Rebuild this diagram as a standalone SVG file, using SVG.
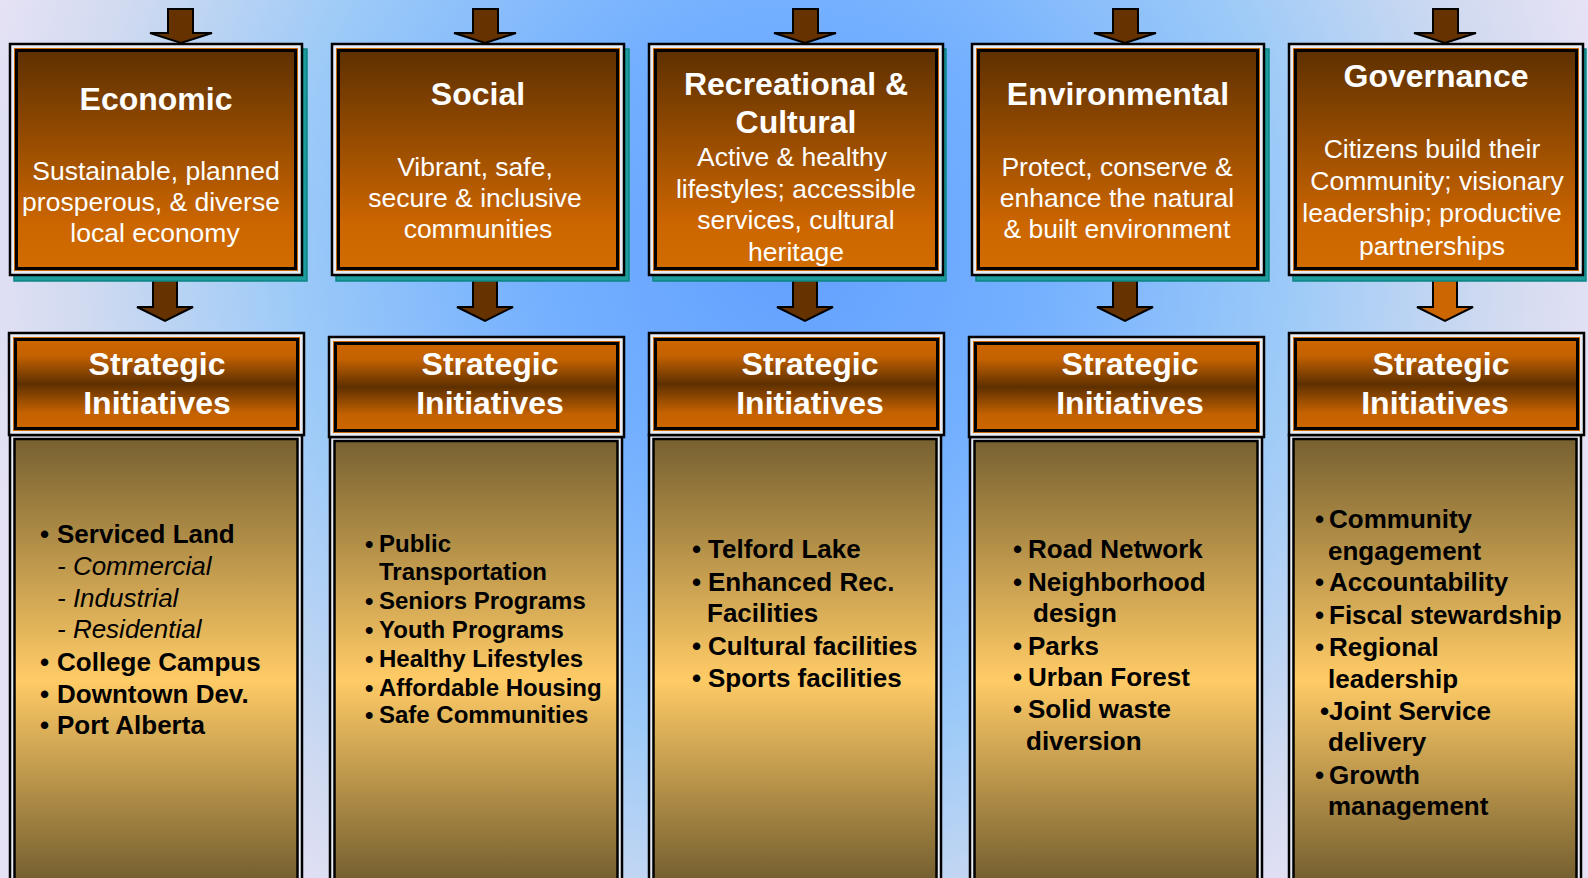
<svg xmlns="http://www.w3.org/2000/svg" width="1588" height="878" viewBox="0 0 1588 878">
<defs>
<radialGradient id="bg" gradientUnits="userSpaceOnUse" cx="790" cy="250" r="830">
<stop offset="0" stop-color="#62A0FF"/>
<stop offset="0.3" stop-color="#74B0FF"/>
<stop offset="0.6" stop-color="#9CCAF8"/>
<stop offset="0.85" stop-color="#D0DAF0"/>
<stop offset="1" stop-color="#E6E2F5"/>
</radialGradient>
<linearGradient id="topg" x1="0" y1="0" x2="0" y2="1">
<stop offset="0" stop-color="#5E3000"/>
<stop offset="0.8" stop-color="#CC6600"/>
<stop offset="1" stop-color="#D06C00"/>
</linearGradient>
<linearGradient id="hdrg" x1="0" y1="0" x2="0" y2="1">
<stop offset="0" stop-color="#CC6600"/>
<stop offset="0.18" stop-color="#C46200"/>
<stop offset="0.5" stop-color="#5E3000"/>
<stop offset="0.82" stop-color="#C46200"/>
<stop offset="1" stop-color="#CC6600"/>
</linearGradient>
<linearGradient id="cntg" gradientUnits="userSpaceOnUse" x1="0" y1="437" x2="0" y2="878">
<stop offset="0" stop-color="#766030"/>
<stop offset="0.55" stop-color="#FFCB66"/>
<stop offset="1" stop-color="#766030"/>
</linearGradient>
<style>
.shadow{fill:#1E9C9C;stroke:#0C8585;stroke-width:1.5}
.outer{fill:#E8ECF4;stroke:#000;stroke-width:2.5}
.orange{fill:#CC6600}
.topfill{fill:url(#topg);stroke:#000;stroke-width:3}
.hdrfill{fill:url(#hdrg);stroke:#000;stroke-width:3}
.cntfill{fill:url(#cntg);stroke:#000;stroke-width:2.5}
.arrow{fill:#663300;stroke:#000;stroke-width:2;stroke-linejoin:miter}
.arrowo{fill:#CC6600;stroke:#000;stroke-width:2}
.title{font-family:"Liberation Sans",Arial,sans-serif;font-weight:bold;font-size:32px;fill:#fff;text-anchor:middle}
.sub{font-family:"Liberation Sans",Arial,sans-serif;font-size:26.5px;fill:#fff;text-anchor:middle}
.item{font-family:"Liberation Sans",Arial,sans-serif;font-weight:bold;font-size:26px;fill:#000}
.item2{font-family:"Liberation Sans",Arial,sans-serif;font-weight:bold;font-size:24px;fill:#000}
.ital{font-family:"Liberation Sans",Arial,sans-serif;font-style:italic;font-size:26px;fill:#000}
</style>
</defs>
<rect x="0" y="0" width="1588" height="878" fill="url(#bg)"/>

<g id="connectors">
<path class="arrow" d="M168,9 H193 V33 H212 L181,43 L150,33 H168 Z"/>
<path class="arrow" d="M473,9 H498 V33 H516 L485,43 L454,33 H473 Z"/>
<path class="arrow" d="M793,9 H818 V33 H836 L805,43 L774,33 H793 Z"/>
<path class="arrow" d="M1113,9 H1138 V33 H1156 L1125,43 L1094,33 H1113 Z"/>
<path class="arrow" d="M1433,9 H1458 V33 H1476 L1445,43 L1414,33 H1433 Z"/>
<path class="arrow" d="M153,272 H177 V307 H193 L165,321 L137,307 H153 Z"/>
<path class="arrow" d="M473,272 H497 V307 H513 L485,321 L457,307 H473 Z"/>
<path class="arrow" d="M793,272 H817 V307 H833 L805,321 L777,307 H793 Z"/>
<path class="arrow" d="M1113,272 H1137 V307 H1153 L1125,321 L1097,307 H1113 Z"/>
<path class="arrowo" d="M1433,272 H1457 V307 H1473 L1445,321 L1417,307 H1433 Z"/>
</g>

<g id="economic">
<rect class="shadow" x="14" y="49" width="293" height="232"/>
<rect class="outer" x="10" y="44" width="292" height="231"/>
<rect class="orange" x="14" y="48" width="284" height="223"/>
<rect class="topfill" x="16.5" y="50.5" width="279" height="218"/>
<text class="title" x="156" y="110">Economic</text>
<text class="sub" x="156" y="180">Sustainable, planned</text>
<text class="sub" x="151" y="211">prosperous, &amp; diverse</text>
<text class="sub" x="155" y="242">local economy</text>
</g>

<g id="social">
<rect class="shadow" x="336" y="49" width="293" height="232"/>
<rect class="outer" x="332" y="44" width="292" height="231"/>
<rect class="orange" x="336" y="48" width="284" height="223"/>
<rect class="topfill" x="338.5" y="50.5" width="279" height="218"/>
<text class="title" x="478" y="105">Social</text>
<text class="sub" x="475" y="176">Vibrant, safe,</text>
<text class="sub" x="475" y="207">secure &amp; inclusive</text>
<text class="sub" x="478" y="238">communities</text>
</g>

<g id="recreational">
<rect class="shadow" x="653" y="49" width="293" height="232"/>
<rect class="outer" x="649" y="44" width="294" height="231"/>
<rect class="orange" x="653" y="48" width="286" height="223"/>
<rect class="topfill" x="655.5" y="50.5" width="281" height="218"/>
<text class="title" x="796" y="95">Recreational &amp;</text>
<text class="title" x="796" y="133">Cultural</text>
<text class="sub" x="792" y="166">Active &amp; healthy</text>
<text class="sub" x="796" y="198">lifestyles; accessible</text>
<text class="sub" x="796" y="229">services, cultural</text>
<text class="sub" x="796" y="261">heritage</text>
</g>

<g id="environmental">
<rect class="shadow" x="976" y="49" width="293" height="232"/>
<rect class="outer" x="972" y="44" width="292" height="231"/>
<rect class="orange" x="976" y="48" width="284" height="223"/>
<rect class="topfill" x="978.5" y="50.5" width="279" height="218"/>
<text class="title" x="1118" y="105">Environmental</text>
<text class="sub" x="1117" y="176">Protect, conserve &amp;</text>
<text class="sub" x="1117" y="207">enhance the natural</text>
<text class="sub" x="1117" y="238">&amp; built environment</text>
</g>

<g id="governance">
<rect class="shadow" x="1293" y="49" width="293" height="232"/>
<rect class="outer" x="1289" y="44" width="294" height="231"/>
<rect class="orange" x="1293" y="48" width="286" height="223"/>
<rect class="topfill" x="1295.5" y="50.5" width="281" height="218"/>
<text class="title" x="1436" y="87">Governance</text>
<text class="sub" x="1432" y="158">Citizens build their</text>
<text class="sub" x="1437" y="190">Community; visionary</text>
<text class="sub" x="1432" y="222">leadership; productive</text>
<text class="sub" x="1432" y="255">partnerships</text>
</g>

<g id="initiatives-economic">
<rect class="outer" x="10" y="435" width="292" height="460"/>
<rect class="cntfill" x="14.5" y="439" width="283" height="460"/>
<rect class="outer" x="9" y="333" width="295" height="102"/>
<rect class="orange" x="13" y="337" width="287" height="94"/>
<rect class="hdrfill" x="15.5" y="339.5" width="282" height="89"/>
<text class="title" x="157" y="375">Strategic</text>
<text class="title" x="157" y="414">Initiatives</text>
<text class="item" x="40" y="543">•</text><text class="item" x="57" y="543">Serviced Land</text>
<text class="ital" x="57" y="575">- Commercial</text>
<text class="ital" x="57" y="607">- Industrial</text>
<text class="ital" x="57" y="638">- Residential</text>
<text class="item" x="40" y="671">•</text><text class="item" x="57" y="671">College Campus</text>
<text class="item" x="40" y="703">•</text><text class="item" x="57" y="703">Downtown Dev.</text>
<text class="item" x="40" y="734">•</text><text class="item" x="57" y="734">Port Alberta</text>
</g>

<g id="initiatives-social">
<rect class="outer" x="330" y="437" width="292" height="460"/>
<rect class="cntfill" x="334.5" y="441" width="283" height="460"/>
<rect class="outer" x="329" y="337" width="295" height="100"/>
<rect class="orange" x="333" y="341" width="287" height="92"/>
<rect class="hdrfill" x="335.5" y="343.5" width="282" height="87"/>
<text class="title" x="490" y="375">Strategic</text>
<text class="title" x="490" y="414">Initiatives</text>
<text class="item2" x="365" y="552">•</text><text class="item2" x="379" y="552">Public</text>
<text class="item2" x="379" y="580">Transportation</text>
<text class="item2" x="365" y="609">•</text><text class="item2" x="379" y="609">Seniors Programs</text>
<text class="item2" x="365" y="638">•</text><text class="item2" x="379" y="638">Youth Programs</text>
<text class="item2" x="365" y="667">•</text><text class="item2" x="379" y="667">Healthy Lifestyles</text>
<text class="item2" x="365" y="696">•</text><text class="item2" x="379" y="696">Affordable Housing</text>
<text class="item2" x="365" y="723">•</text><text class="item2" x="379" y="723">Safe Communities</text>
</g>

<g id="initiatives-recreational">
<rect class="outer" x="649" y="435" width="292" height="460"/>
<rect class="cntfill" x="653.5" y="439" width="283" height="460"/>
<rect class="outer" x="649" y="333" width="295" height="102"/>
<rect class="orange" x="653" y="337" width="287" height="94"/>
<rect class="hdrfill" x="655.5" y="339.5" width="282" height="89"/>
<text class="title" x="810" y="375">Strategic</text>
<text class="title" x="810" y="414">Initiatives</text>
<text class="item" x="692" y="558">•</text><text class="item" x="708" y="558">Telford Lake</text>
<text class="item" x="692" y="591">•</text><text class="item" x="708" y="591">Enhanced Rec.</text>
<text class="item" x="707" y="622">Facilities</text>
<text class="item" x="692" y="655">•</text><text class="item" x="708" y="655">Cultural facilities</text>
<text class="item" x="692" y="687">•</text><text class="item" x="708" y="687">Sports facilities</text>
</g>

<g id="initiatives-environmental">
<rect class="outer" x="970" y="437" width="292" height="460"/>
<rect class="cntfill" x="974.5" y="441" width="283" height="460"/>
<rect class="outer" x="969" y="337" width="295" height="100"/>
<rect class="orange" x="973" y="341" width="287" height="92"/>
<rect class="hdrfill" x="975.5" y="343.5" width="282" height="87"/>
<text class="title" x="1130" y="375">Strategic</text>
<text class="title" x="1130" y="414">Initiatives</text>
<text class="item" x="1013" y="558">•</text><text class="item" x="1028" y="558">Road Network</text>
<text class="item" x="1013" y="591">•</text><text class="item" x="1028" y="591">Neighborhood</text>
<text class="item" x="1033" y="622">design</text>
<text class="item" x="1013" y="655">•</text><text class="item" x="1028" y="655">Parks</text>
<text class="item" x="1013" y="686">•</text><text class="item" x="1028" y="686">Urban Forest</text>
<text class="item" x="1013" y="718">•</text><text class="item" x="1028" y="718">Solid waste</text>
<text class="item" x="1026" y="750">diversion</text>
</g>

<g id="initiatives-governance">
<rect class="outer" x="1289" y="435" width="292" height="460"/>
<rect class="cntfill" x="1293.5" y="439" width="283" height="460"/>
<rect class="outer" x="1289" y="333" width="295" height="102"/>
<rect class="orange" x="1293" y="337" width="287" height="94"/>
<rect class="hdrfill" x="1295.5" y="339.5" width="282" height="89"/>
<text class="title" x="1441" y="375">Strategic</text>
<text class="title" x="1435" y="414">Initiatives</text>
<text class="item" x="1315" y="528">•</text><text class="item" x="1329" y="528">Community</text>
<text class="item" x="1328" y="560">engagement</text>
<text class="item" x="1315" y="591">•</text><text class="item" x="1329" y="591">Accountability</text>
<text class="item" x="1315" y="624">•</text><text class="item" x="1329" y="624">Fiscal stewardship</text>
<text class="item" x="1315" y="656">•</text><text class="item" x="1329" y="656">Regional</text>
<text class="item" x="1328" y="688">leadership</text>
<text class="item" x="1320" y="720">•Joint Service</text>
<text class="item" x="1328" y="751">delivery</text>
<text class="item" x="1315" y="784">•</text><text class="item" x="1329" y="784">Growth</text>
<text class="item" x="1328" y="815">management</text>
</g>
</svg>
